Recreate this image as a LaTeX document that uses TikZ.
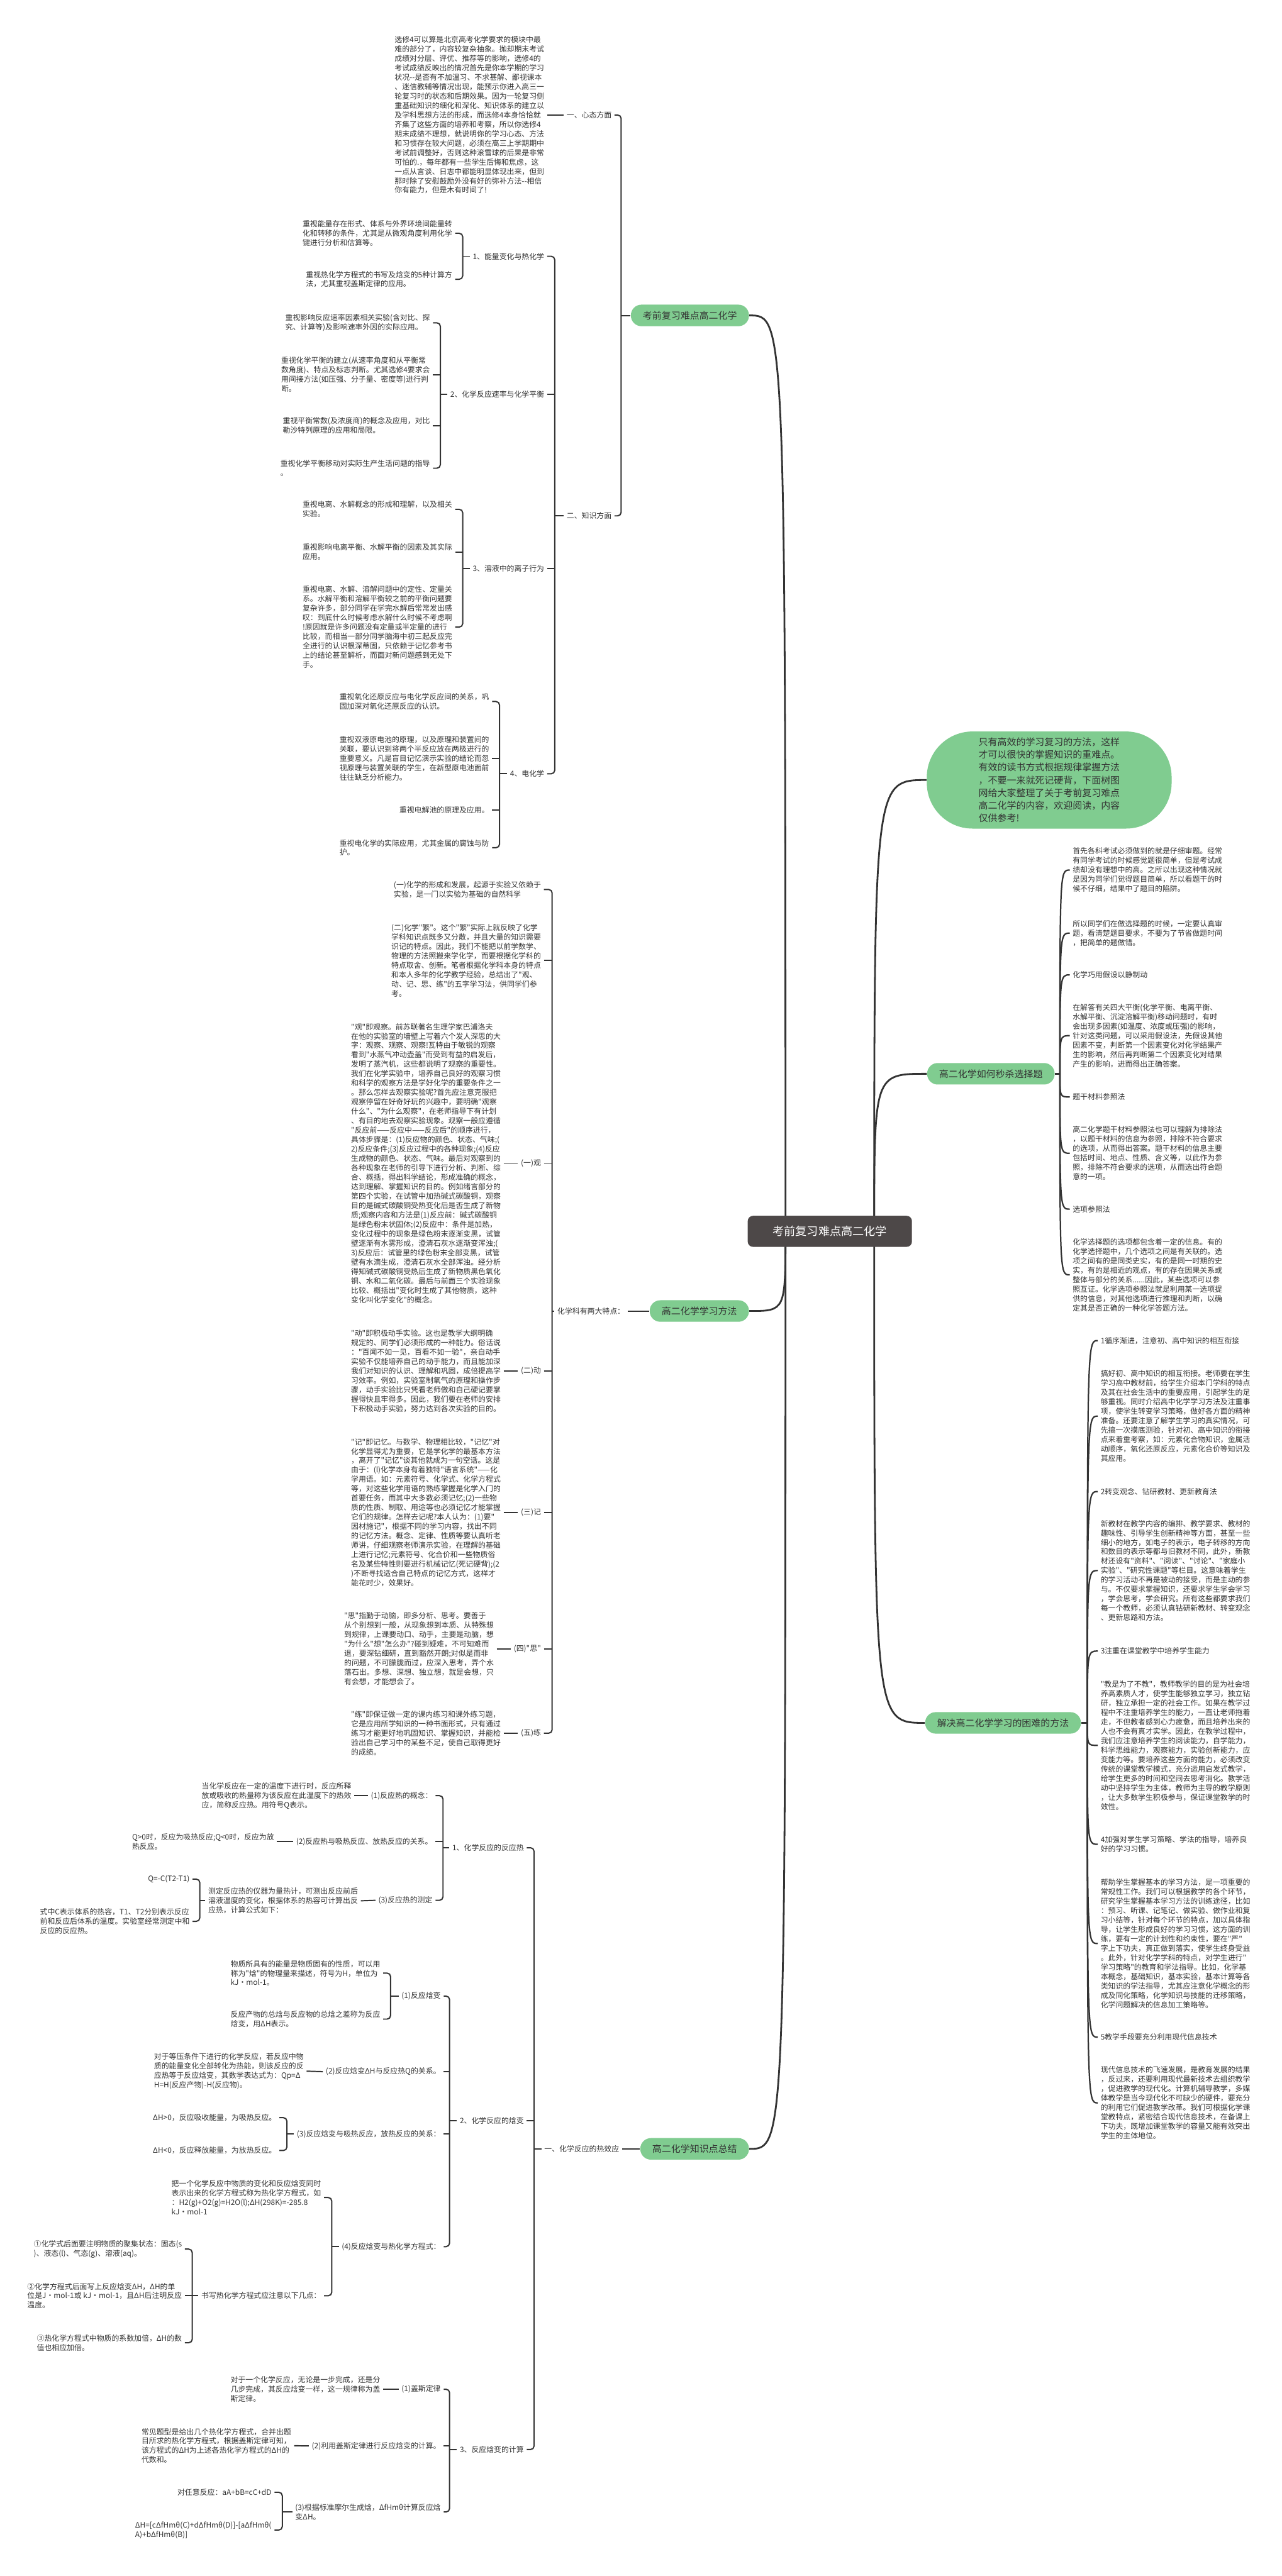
\documentclass[tikz,border=0pt]{standalone}
\usepackage{fontspec}
\newfontfamily\cjk{Noto Sans CJK SC}
\definecolor{ink}{HTML}{333333}
\definecolor{leaf}{HTML}{80CC90}
\definecolor{hub}{HTML}{4D4848}
\begin{document}
\begin{tikzpicture}[x=0.03282cm,y=-0.03282cm,
	font=\cjk\fontsize{4.25}{5.35}\selectfont,text=ink,
	tb/.style={align=left,inner sep=1.5pt},
	lb/.style={inner sep=1.5pt},
	gn/.style={fill=leaf,rounded corners=6pt,minimum height=4.3mm,inner xsep=6.8pt,inner ysep=1pt,font=\cjk\fontsize{5.35}{6.4}\selectfont},
	br/.style={draw=ink,line width=0.7pt,rounded corners=2pt},
	cv/.style={draw=ink,line width=0.8pt}]
	\fill[white] (0,0) rectangle (780,1568);
	\useasboundingbox (0,0) rectangle (780,1568);
	\coordinate (cl) at (478,749.5);
	\coordinate (cr) at (532,749.5);

	% left branch 1
	\node[gn,anchor=east] (l1) at (456,192) {考前复习难点高二化学};
	\node[lb,anchor=east] (a1) at (374,70) {一、心态方面};
	\node[lb,anchor=east] (a2) at (374,314) {二、知识方面};
	\node[tb,anchor=east] (a1t) at (333,70) {选修4可以算是北京高考化学要求的模块中最\\难的部分了，内容较复杂抽象。抛却期末考试\\成绩对分层、评优、推荐等的影响，选修4的\\考试成绩反映出的情况首先是你本学期的学习\\状况-{}-是否有不加温习、不求甚解、鄙视课本\\、迷信教辅等情况出现，能预示你进入高三一\\轮复习时的状态和后期效果。因为一轮复习侧\\重基础知识的细化和深化、知识体系的建立以\\及学科思想方法的形成，而选修4本身恰恰就\\齐集了这些方面的培养和考察，所以你选修4\\期末成绩不理想，就说明你的学习心态、方法\\和习惯存在较大问题，必须在高三上学期期中\\考试前调整好，否则这种滚雪球的后果是非常\\可怕的.，每年都有一些学生后悔和焦虑，这\\一点从言谈、日志中都能明显体现出来，但到\\那时除了安慰鼓励外没有好的弥补方法-{}-相信\\你有能力，但是木有时间了!};
	\node[lb,anchor=east] (k1) at (333,156) {1、能量变化与热化学};
	\node[lb,anchor=east] (k2) at (333,240) {2、化学反应速率与化学平衡};
	\node[lb,anchor=east] (k3) at (333,346) {3、溶液中的离子行为};
	\node[lb,anchor=east] (k4) at (333,471) {4、电化学};
	\node[tb,anchor=east] (k1a) at (277,142) {重视能量存在形式、体系与外界环境间能量转\\化和转移的条件，尤其是从微观角度利用化学\\键进行分析和估算等。};
	\node[tb,anchor=east] (k1b) at (277,170) {重视热化学方程式的书写及焓变的5种计算方\\法，尤其重视盖斯定律的应用。};
	\node[tb,anchor=east] (k2a) at (263.5,196.5) {重视影响反应速率因素相关实验(含对比、探\\究、计算等)及影响速率外因的实际应用。};
	\node[tb,anchor=east] (k2b) at (263.5,228) {重视化学平衡的建立(从速率角度和从平衡常\\数角度)、特点及标志判断。尤其选修4要求会\\用间接方法(如压强、分子量、密度等)进行判\\断。};
	\node[tb,anchor=east] (k2c) at (263.5,259) {重视平衡常数(及浓度商)的概念及应用，对比\\勒沙特列原理的应用和局限。};
	\node[tb,anchor=east] (k2d) at (263.5,285) {重视化学平衡移动对实际生产生活问题的指导\\。};
	\node[tb,anchor=east] (k3a) at (277,310) {重视电离、水解概念的形成和理解，以及相关\\实验。};
	\node[tb,anchor=east] (k3b) at (277,336) {重视影响电离平衡、水解平衡的因素及其实际\\应用。};
	\node[tb,anchor=east] (k3c) at (277,381.7) {重视电离、水解、溶解问题中的定性、定量关\\系。水解平衡和溶解平衡较之前的平衡问题要\\复杂许多，部分同学在学完水解后常常发出感\\叹：到底什么时候考虑水解什么时候不考虑啊\\!原因就是许多问题没有定量或半定量的进行\\比较，而相当一部分同学脑海中初三起反应完\\全进行的认识根深蒂固，只依赖于记忆参考书\\上的结论甚至解析，而面对新问题感到无处下\\手。};
	\node[tb,anchor=east] (k4a) at (299.5,427) {重视氧化还原反应与电化学反应间的关系，巩\\固加深对氧化还原反应的认识。};
	\node[tb,anchor=east] (k4b) at (299.5,461.7) {重视双液原电池的原理，以及原理和装置间的\\关联，要认识到将两个半反应放在两极进行的\\重要意义。凡是盲目记忆演示实验的结论而忽\\视原理与装置关联的学生，在新型原电池面前\\往往缺乏分析能力。};
	\node[tb,anchor=east] (k4c) at (299.5,493) {重视电解池的原理及应用。};
	\node[tb,anchor=east] (k4d) at (299.5,516) {重视电化学的实际应用，尤其金属的腐蚀与防\\护。};
	\coordinate (j0) at (378,0);
	\coordinate (ja2) at (337.6,0);
	\coordinate (jk1) at (281.6,0);
	\coordinate (jk2) at (268,0);
	\coordinate (jk3) at (281.6,0);
	\coordinate (jk4) at (304,0);
	\draw[br] (a1.east) -| (j0 |- a2.east) -- (a2.east);
	\draw[br] (j0 |- l1.west) -- (l1.west);
	\draw[br] (a1t.east) -- (a1.west);
	\draw[br] (k1.east) -| (ja2 |- k4.east) -- (k4.east);
	\draw[br] (ja2 |- a2.west) -- (a2.west);
	\foreach \n in {k2,k3} \draw[br] (\n.east) -- (ja2 |- \n.east);
	\draw[br] (k1a.east) -| (jk1 |- k1b.east) -- (k1b.east);
	\draw[br] (jk1 |- k1.west) -- (k1.west);
	\draw[br] (k2a.east) -| (jk2 |- k2d.east) -- (k2d.east);
	\draw[br] (jk2 |- k2.west) -- (k2.west);
	\foreach \n in {k2b,k2c} \draw[br] (\n.east) -- (jk2 |- \n.east);
	\draw[br] (k3a.east) -| (jk3 |- k3c.east) -- (k3c.east);
	\draw[br] (jk3 |- k3.west) -- (k3.west);
	\draw[br] (k3b.east) -- (jk3 |- k3b.east);
	\draw[br] (k4a.east) -| (jk4 |- k4d.east) -- (k4d.east);
	\draw[br] (jk4 |- k4.west) -- (k4.west);
	\foreach \n in {k4b,k4c} \draw[br] (\n.east) -- (jk4 |- \n.east);

	% left branch 2
	\node[gn,anchor=east] (m) at (456,798) {高二化学学习方法};
	\node[lb,anchor=east] (m0) at (382,798) {化学科有两大特点：};
	\node[tb,anchor=east] (ma) at (331,541.4) {(一)化学的形成和发展，起源于实验又依赖于\\实验，是一门以实验为基础的自然科学};
	\node[tb,anchor=east] (mb) at (331,584.7) {(二)化学"繁"。这个"繁"实际上就反映了化学\\学科知识点既多又分散，并且大量的知识需要\\识记的特点。因此，我们不能把以前学数学、\\物理的方法照搬来学化学，而要根据化学科的\\特点取舍、创新。笔者根据化学科本身的特点\\和本人多年的化学教学经验，总结出了"观、\\动、记、思、练"的五字学习法，供同学们参\\考。};
	\node[lb,anchor=east] (g1) at (331,708) {(一)观};
	\node[lb,anchor=east] (g2) at (331,834.6) {(二)动};
	\node[lb,anchor=east] (g3) at (331,920.6) {(三)记};
	\node[lb,anchor=east] (g4) at (331,1003.6) {(四)"思"};
	\node[lb,anchor=east] (g5) at (331,1055) {(五)练};
	\node[tb,anchor=east] (g1t) at (306.5,708) {"观"即观察。前苏联著名生理学家巴浦洛夫\\在他的实验室的墙壁上写着六个发人深思的大\\字：观察、观察、观察!瓦特由于敏锐的观察\\看到"水蒸气冲动壶盖"而受到有益的启发后，\\发明了蒸汽机，这些都说明了观察的重要性。\\我们在化学实验中，培养自己良好的观察习惯\\和科学的观察方法是学好化学的重要条件之一\\。那么怎样去观察实验呢?首先应注意克服把\\观察停留在好奇好玩的兴趣中，要明确"观察\\什么"、"为什么观察"，在老师指导下有计划\\、有目的地去观察实验现象。观察一般应遵循\\"反应前——反应中——反应后"的顺序进行，\\具体步骤是：(1)反应物的颜色、状态、气味;(\\2)反应条件;(3)反应过程中的各种现象;(4)反应\\生成物的颜色、状态、气味。最后对观察到的\\各种现象在老师的引导下进行分析、判断、综\\合、概括，得出科学结论，形成准确的概念，\\达到理解、掌握知识的目的。例如绪言部分的\\第四个实验，在试管中加热碱式碳酸铜，观察\\目的是碱式碳酸铜受热变化后是否生成了新物\\质;观察内容和方法是(1)反应前：碱式碳酸铜\\是绿色粉末状固体;(2)反应中：条件是加热，\\变化过程中的现象是绿色粉末逐渐变黑，试管\\壁逐渐有水雾形成，澄清石灰水逐渐变浑浊;(\\3)反应后：试管里的绿色粉末全部变黑，试管\\壁有水滴生成，澄清石灰水全部浑浊。经分析\\得知碱式碳酸铜受热后生成了新物质黑色氧化\\铜、水和二氧化碳。最后与前面三个实验现象\\比较、概括出"变化时生成了其他物质，这种\\变化叫化学变化"的概念。};
	\node[tb,anchor=east] (g2t) at (306.5,834.6) {"动"即积极动手实验。这也是教学大纲明确\\规定的、同学们必须形成的一种能力。俗话说\\："百闻不如一见，百看不如一验"，亲自动手\\实验不仅能培养自己的动手能力，而且能加深\\我们对知识的认识、理解和巩固，成倍提高学\\习效率。例如，实验室制氧气的原理和操作步\\骤，动手实验比只凭看老师做和自己硬记要掌\\握得快且牢得多。因此，我们要在老师的安排\\下积极动手实验，努力达到各次实验的目的。};
	\node[tb,anchor=east] (g3t) at (306.5,920.6) {"记"即记忆。与数学、物理相比较，"记忆"对\\化学显得尤为重要，它是学化学的最基本方法\\，离开了"记忆"谈其他就成为一句空话。这是\\由于：(l)化学本身有着独特"语言系统"——化\\学用语。如：元素符号、化学式、化学方程式\\等，对这些化学用语的熟练掌握是化学入门的\\首要任务，而其中大多数必须记忆;(2)一些物\\质的性质、制取、用途等也必须记忆才能掌握\\它们的规律。怎样去记呢?本人认为：(1)要"\\因材施记"，根据不同的学习内容，找出不同\\的记忆方法。概念、定律、性质等要认真听老\\师讲，仔细观察老师演示实验，在理解的基础\\上进行记忆;元素符号、化合价和一些物质俗\\名及某些特性则要进行机械记忆(死记硬背);(2\\)不断寻找适合自己特点的记忆方式，这样才\\能花时少，效果好。};
	\node[tb,anchor=east] (g4t) at (302.3,1003.6) {"思"指勤于动脑，即多分析、思考。要善于\\从个别想到一般，从现象想到本质、从特殊想\\到规律，上课要动口、动手，主要是动脑，想\\"为什么"想"怎么办"?碰到疑难，不可知难而\\退，要深钻细研，直到豁然开朗;对似是而非\\的问题，不可朦胧而过，应深入思考，弄个水\\落石出。多想、深想、独立想，就是会想，只\\有会想，才能想会了。};
	\node[tb,anchor=east] (g5t) at (306.5,1055) {"练"即保证做一定的课内练习和课外练习题，\\它是应用所学知识的一种书面形式，只有通过\\练习才能更好地巩固知识、掌握知识，并能检\\验出自己学习中的某些不足，使自己取得更好\\的成绩。};
	\coordinate (jm0) at (336,0);
	\draw[br] (m0.east) -- (m.west);
	\draw[br] (ma.east) -| (jm0 |- g5.east) -- (g5.east);
	\draw[br] (jm0 |- m0.west) -- (m0.west);
	\foreach \n in {mb,g1,g2,g3,g4} \draw[br] (\n.east) -- (jm0 |- \n.east);
	\foreach \n in {g1,g2,g3,g4,g5} \draw[br] (\n t.east) -- (\n.west);

	% left branch 3
	\node[gn,anchor=east] (s) at (456,1308) {高二化学知识点总结};
	\node[lb,anchor=east] (s0) at (378.6,1308) {一、化学反应的热效应};
	\node[lb,anchor=east] (s1) at (320.6,1124.7) {1、化学反应的反应热};
	\node[lb,anchor=east] (s2) at (320.6,1291) {2、化学反应的焓变};
	\node[lb,anchor=east] (s3) at (320.6,1491) {3、反应焓变的计算};
	\node[lb,anchor=east] (s1a) at (265,1093) {(1)反应热的概念：};
	\node[lb,anchor=east] (s1b) at (265,1121) {(2)反应热与吸热反应、放热反应的关系。};
	\node[lb,anchor=east] (s1c) at (265,1156.7) {(3)反应热的测定};
	\node[tb,anchor=east] (s1at) at (215.6,1093) {当化学反应在一定的温度下进行时，反应所释\\放或吸收的热量称为该反应在此温度下的热效\\应，简称反应热。用符号Q表示。};
	\node[tb,anchor=east] (s1bt) at (168.6,1121) {Q>0时，反应为吸热反应;Q<0时，反应为放\\热反应。};
	\node[tb,anchor=east] (s1ct) at (219.6,1157) {测定反应热的仪器为量热计，可测出反应前后\\溶液温度的变化，根据体系的热容可计算出反\\应热，计算公式如下：};
	\node[tb,anchor=east] (s1c1) at (117.2,1143.8) {Q=-C(T2-T1)};
	\node[tb,anchor=east] (s1c2) at (117.2,1169.5) {式中C表示体系的热容，T1、T2分别表示反应\\前和反应后体系的温度。实验室经常测定中和\\反应的反应热。};
	\node[lb,anchor=east] (s2a) at (270,1215) {(1)反应焓变};
	\node[lb,anchor=east] (s2b) at (270,1261) {(2)反应焓变ΔH与反应热Q的关系。};
	\node[lb,anchor=east] (s2c) at (270,1299) {(3)反应焓变与吸热反应，放热反应的关系：};
	\node[lb,anchor=east] (s2d) at (270,1367.5) {(4)反应焓变与热化学方程式：};
	\node[tb,anchor=east] (s2a1) at (233.2,1201) {物质所具有的能量是物质固有的性质，可以用\\称为"焓"的物理量来描述，符号为H，单位为\\kJ·mol-1。};
	\node[tb,anchor=east] (s2a2) at (233.2,1229) {反应产物的总焓与反应物的总焓之差称为反应\\焓变，用ΔH表示。};
	\node[tb,anchor=east] (s2bt) at (186.6,1260.7) {对于等压条件下进行的化学反应，若反应中物\\质的能量变化全部转化为热能，则该反应的反\\应热等于反应焓变，其数学表达式为：Qp=Δ\\H=H(反应产物)-H(反应物)。};
	\node[tb,anchor=east] (s2c1) at (170,1289) {ΔH>0，反应吸收能量，为吸热反应。};
	\node[tb,anchor=east] (s2c2) at (170,1309) {ΔH<0，反应释放能量，为放热反应。};
	\node[tb,anchor=east] (s2d1) at (197.2,1337.6) {把一个化学反应中物质的变化和反应焓变同时\\表示出来的化学方程式称为热化学方程式，如\\：H2(g)+O2(g)=H2O(l);ΔH(298K)=-285.8\\kJ·mol-1};
	\node[lb,anchor=east] (s2d2) at (197.2,1397.4) {书写热化学方程式应注意以下几点：};
	\node[tb,anchor=east] (s2d2a) at (112.5,1369) {①化学式后面要注明物质的聚集状态：固态(s\\)、液态(l)、气态(g)、溶液(aq)。};
	\node[tb,anchor=east] (s2d2b) at (112.5,1397.4) {②化学方程式后面写上反应焓变ΔH，ΔH的单\\位是J·mol-1或 kJ·mol-1，且ΔH后注明反应\\温度。};
	\node[tb,anchor=east] (s2d2c) at (112.5,1426) {③热化学方程式中物质的系数加倍，ΔH的数\\值也相应加倍。};
	\node[lb,anchor=east] (s3a) at (270,1454.3) {(1)盖斯定律};
	\node[lb,anchor=east] (s3b) at (270,1488.8) {(2)利用盖斯定律进行反应焓变的计算。};
	\node[tb,anchor=east] (s3c) at (270,1529) {(3)根据标准摩尔生成焓，ΔfHmθ计算反应焓\\变ΔH。};
	\node[tb,anchor=east] (s3at) at (233.2,1454.3) {对于一个化学反应，无论是一步完成，还是分\\几步完成，其反应焓变一样，这一规律称为盖\\斯定律。};
	\node[tb,anchor=east] (s3bt) at (179,1488.7) {常见题型是给出几个热化学方程式，合并出题\\目所求的热化学方程式，根据盖斯定律可知，\\该方程式的ΔH为上述各热化学方程式的ΔH的\\代数和。};
	\node[tb,anchor=east] (s3c1) at (167,1517) {对任意反应：aA+bB=cC+dD};
	\node[tb,anchor=east] (s3c2) at (167,1540) {ΔH=[cΔfHmθ(C)+dΔfHmθ(D)]-[aΔfHmθ(\\A)+bΔfHmθ(B)]};
	\coordinate (js0) at (325,0);
	\coordinate (js1) at (269.6,0);
	\coordinate (jsc) at (121.6,0);
	\coordinate (js2) at (273.6,0);
	\coordinate (js2a) at (237.7,0);
	\coordinate (js2c) at (174.6,0);
	\coordinate (js2d) at (201.9,0);
	\coordinate (jsd2) at (117,0);
	\coordinate (js3) at (273.6,0);
	\coordinate (js3c) at (171.8,0);
	\draw[br] (s0.east) -- (s.west);
	\draw[br] (s1.east) -| (js0 |- s3.east) -- (s3.east);
	\draw[br] (js0 |- s0.west) -- (s0.west);
	\draw[br] (s2.east) -- (js0 |- s2.east);
	\draw[br] (s1a.east) -| (js1 |- s1c.east) -- (s1c.east);
	\draw[br] (js1 |- s1.west) -- (s1.west);
	\draw[br] (s1b.east) -- (js1 |- s1b.east);
	\foreach \n in {s1a,s1b,s1c,s2b,s3a,s3b} \draw[br] (\n t.east) -- (\n.west);
	\draw[br] (s1c1.east) -| (jsc |- s1c2.east) -- (s1c2.east);
	\draw[br] (jsc |- s1ct.west) -- (s1ct.west);
	\draw[br] (s2a.east) -| (js2 |- s2d.east) -- (s2d.east);
	\draw[br] (js2 |- s2.west) -- (s2.west);
	\foreach \n in {s2b,s2c} \draw[br] (\n.east) -- (js2 |- \n.east);
	\draw[br] (s2a1.east) -| (js2a |- s2a2.east) -- (s2a2.east);
	\draw[br] (js2a |- s2a.west) -- (s2a.west);
	\draw[br] (s2c1.east) -| (js2c |- s2c2.east) -- (s2c2.east);
	\draw[br] (js2c |- s2c.west) -- (s2c.west);
	\draw[br] (s2d1.east) -| (js2d |- s2d2.east) -- (s2d2.east);
	\draw[br] (js2d |- s2d.west) -- (s2d.west);
	\draw[br] (s2d2a.east) -| (jsd2 |- s2d2c.east) -- (s2d2c.east);
	\draw[br] (jsd2 |- s2d2.west) -- (s2d2.west);
	\draw[br] (s2d2b.east) -- (jsd2 |- s2d2b.east);
	\draw[br] (s3a.east) -| (js3 |- s3c.east) -- (s3c.east);
	\draw[br] (js3 |- s3.west) -- (s3.west);
	\draw[br] (s3b.east) -- (js3 |- s3b.east);
	\draw[br] (s3c1.east) -| (js3c |- s3c2.east) -- (s3c2.east);
	\draw[br] (js3c |- s3c.west) -- (s3c.west);

	% right side
	\node[fill=leaf,rounded corners=26pt,minimum width=4.89cm,minimum height=1.94cm,align=left,font=\cjk\fontsize{5.35}{7.2}\selectfont] (bub) at (638.5,474.8) {只有高效的学习复习的方法，这样\\才可以很快的掌握知识的重难点。\\有效的读书方式根据规律掌握方法\\，不要一来就死记硬背，下面树图\\网给大家整理了关于考前复习难点\\高二化学的内容，欢迎阅读，内容\\仅供参考!};
	\node[gn,anchor=west] (r2) at (564,653.6) {高二化学如何秒杀选择题};
	\coordinate (o2) at (645,653.6);
	\node[tb,anchor=west] (r2a) at (651,529.6) {首先各科考试必须做到的就是仔细审题。经常\\有同学考试的时候感觉题很简单，但是考试成\\绩却没有理想中的高。之所以出现这种情况就\\是因为同学们觉得题目简单，所以看题干的时\\候不仔细，结果中了题目的陷阱。};
	\node[tb,anchor=west] (r2b) at (651,568) {所以同学们在做选择题的时候，一定要认真审\\题，看清楚题目要求，不要为了节省做题时间\\，把简单的题做错。};
	\node[tb,anchor=west] (r2c) at (651,593.4) {化学巧用假设以静制动};
	\node[tb,anchor=west] (r2d) at (651,630.4) {在解答有关四大平衡(化学平衡、电离平衡、\\水解平衡、沉淀溶解平衡)移动问题时，有时\\会出现多因素(如温度、浓度或压强)的影响，\\针对这类问题，可以采用假设法，先假设其他\\因素不变，判断第一个因素变化对化学结果产\\生的影响，然后再判断第二个因素变化对结果\\产生的影响，进而得出正确答案。};
	\node[tb,anchor=west] (r2e) at (651,667.7) {题干材料参照法};
	\node[tb,anchor=west] (r2f) at (651,702) {高二化学题干材料参照法也可以理解为排除法\\，以题干材料的信息为参照，排除不符合要求\\的选项，从而得出答案。题干材料的信息主要\\包括时间、地点、性质、含义等，以此作为参\\照，排除不符合要求的选项，从而选出符合题\\意的一项。};
	\node[tb,anchor=west] (r2g) at (651,736) {选项参照法};
	\node[tb,anchor=west] (r2h) at (651,776) {化学选择题的选项都包含着一定的信息。有的\\化学选择题中，几个选项之间是有关联的。选\\项之间有的是同类史实，有的是同一时期的史\\实，有的是相近的观点，有的存在因果关系或\\整体与部分的关系......因此，某些选项可以参\\照互证。化学选项参照法就是利用某一选项提\\供的信息，对其他选项进行推理和判断，以确\\定其是否正确的一种化学答题方法。};
	\draw[cv] (r2.east) -- (o2);
	\foreach \n in {r2a,r2b,r2c,r2d,r2e,r2f,r2g,r2h} \draw[cv] (o2) .. controls (o2 |- \n.west) .. (\n.west);

	\node[gn,anchor=east] (r3) at (658,1048.7) {解决高二化学学习的困难的方法};
	\coordinate (o3) at (661.7,1048.7);
	\node[tb,anchor=west] (r3a) at (668,816) {1循序渐进，注意初、高中知识的相互衔接};
	\node[tb,anchor=west] (r3b) at (668,862) {搞好初、高中知识的相互衔接。老师要在学生\\学习高中教材前，给学生介绍本门学科的特点\\及其在社会生活中的重要应用，引起学生的足\\够重视。同时介绍高中化学学习方法及注重事\\项，使学生转变学习策略，做好各方面的精神\\准备。还要注意了解学生学习的真实情况，可\\先搞一次摸底测验，针对初、高中知识的衔接\\点来着重考察，如：元素化合物知识，金属活\\动顺序，氧化还原反应，元素化合价等知识及\\其应用。};
	\node[tb,anchor=west] (r3c) at (668,907.9) {2转变观念、钻研教材、更新教育法};
	\node[tb,anchor=west] (r3d) at (668,956) {新教材在教学内容的编排、教学要求、教材的\\趣味性、引导学生创新精神等方面，甚至一些\\细小的地方，如电子的表示，电子转移的方向\\和数目的表示等都与旧教材不同，此外，新教\\材还设有"资料"、"阅读"、"讨论"、"家庭小\\实验"、"研究性课题"等栏目。这意味着学生\\的学习活动不再是被动的接受，而是主动的参\\与。不仅要求掌握知识，还要求学生学会学习\\，学会思考，学会研究。所有这些都要求我们\\每一个教师，必须认真钻研新教材、转变观念\\、更新思路和方法。};
	\node[tb,anchor=west] (r3e) at (668,1005) {3注重在课堂教学中培养学生能力};
	\node[tb,anchor=west] (r3f) at (668,1062.4) {"教是为了不教"，教师教学的目的是为社会培\\养高素质人才，使学生能够独立学习，独立钻\\研，独立承担一定的社会工作。如果在教学过\\程中不注重培养学生的能力，一直让老师拖着\\走，不但教者感到心力疲惫，而且培养出来的\\人也不会有真才实学。因此，在教学过程中，\\我们应注意培养学生的阅读能力，自学能力，\\科学思维能力，观察能力，实验创新能力，应\\变能力等。要培养这些方面的能力，必须改变\\传统的课堂教学模式，充分运用启发式教学，\\给学生更多的时间和空间去思考消化。教学活\\动中坚持学生为主体，教师为主导的教学原则\\，让大多数学生积极参与，保证课堂教学的时\\效性。};
	\node[tb,anchor=west] (r3g) at (668,1122.6) {4加强对学生学习策略、学法的指导，培养良\\好的学习习惯。};
	\node[tb,anchor=west] (r3h) at (668,1183) {帮助学生掌握基本的学习方法，是一项重要的\\常规性工作。我们可以根据教学的各个环节，\\研究学生掌握基本学习方法的训练途径，比如\\：预习、听课、记笔记、做实验、做作业和复\\习小结等，针对每个环节的特点，加以具体指\\导，让学生形成良好的学习习惯，这方面的训\\练，要有一定的计划性和约束性，要在"严"\\字上下功夫，真正做到落实，使学生终身受益\\。此外，针对化学学科的特点，对学生进行"\\学习策略"的教育和学法指导。比如，化学基\\本概念，基础知识，基本实验，基本计算等各\\类知识的学法指导，尤其应注意化学概念的形\\成及同化策略，化学知识与技能的迁移策略，\\化学问题解决的信息加工策略等。};
	\node[tb,anchor=west] (r3i) at (668,1240) {5教学手段要充分利用现代信息技术};
	\node[tb,anchor=west] (r3j) at (668,1280) {现代信息技术的飞速发展，是教育发展的结果\\，反过来，还要利用现代最新技术去组织教学\\，促进教学的现代化。计算机辅导教学，多媒\\体教学是当今现代化不可缺少的硬件，要充分\\的利用它们促进教学改革。我们可根据化学课\\堂教特点，紧密结合现代信息技术，在备课上\\下功夫，既增加课堂教学的容量又能有效突出\\学生的主体地位。};
	\draw[cv] (r3.east) -- (o3);
	\foreach \n in {r3a,r3b,r3c,r3d,r3e,r3f,r3g,r3h,r3i,r3j} \draw[cv] (o3) .. controls (o3 |- \n.west) .. (\n.west);

	% main branches
	\foreach \n in {l1,m,s} \draw[cv,line width=1pt] (cl) .. controls (cl |- \n.east) .. (\n.east);
	\foreach \n in {bub,r2,r3} \draw[cv,line width=1pt] (cr) .. controls (cr |- \n.west) .. (\n.west);
	\node[fill=hub,text=white,rounded corners=3pt,minimum width=3.28cm,minimum height=0.62cm,font=\cjk\fontsize{6.5}{7.5}\selectfont] (c) at (505,749.5) {考前复习难点高二化学};
\end{tikzpicture}
\end{document}
